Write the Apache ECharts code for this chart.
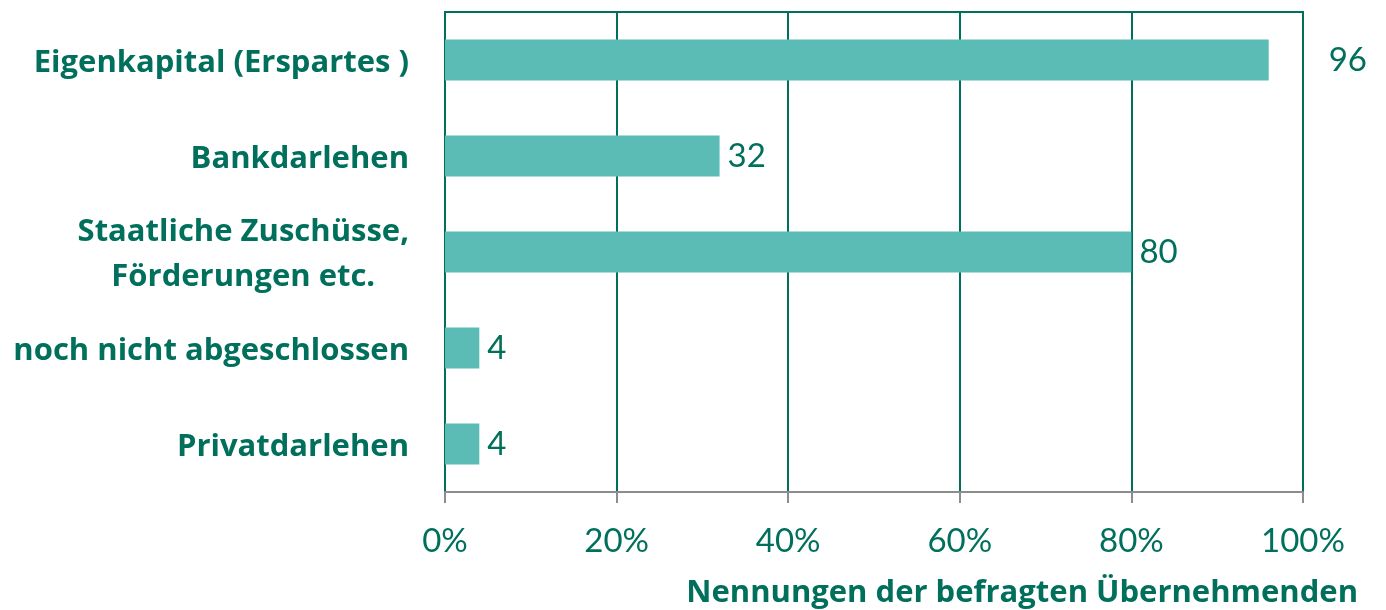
<!DOCTYPE html>
<html>
<head>
<meta charset="utf-8">
<script src="https://cdn.jsdelivr.net/npm/echarts@6/dist/echarts.min.js"></script>
<style>
  html, body { margin: 0; padding: 0; background: #fff; }
  #main { width: 1386px; height: 610px; }
</style>
</head>
<body>
<div id="main"></div>
<script>
const categories = [
  'Eigenkapital (Erspartes )',
  'Bankdarlehen',
  'Staatliche Zuschüsse,\nFörderungen etc.',
  'noch nicht abgeschlossen',
  'Privatdarlehen'
]
const values = [96, 32, 80, 4, 4]
const tickLabels = ['0%', '20%', '40%', '60%', '80%', '100%']
const axisTitle = 'Nennungen der befragten Übernehmenden'

const teal = '#00705c'
const barColor = '#5bbbb5'
const numFont = 'Lato'
const textFont = 'Open Sans'

const chart = echarts.init(document.getElementById('main'))

chart.setOption({
  animation: false,
  grid: {
    left: 445, right: 83, top: 12, bottom: 118,
    show: true, borderColor: teal, borderWidth: 2
  },
  title: {
    text: axisTitle,
    right: 23, top: 573,
    textStyle: { color: teal, fontFamily: textFont, fontWeight: 'bold', fontSize: 31 }
  },
  xAxis: {
    type: 'value', min: 0, max: 100, interval: 20,
    axisLine: { show: true, lineStyle: { color: '#8c8c8c', width: 2 } },
    axisTick: { show: true, length: 11, lineStyle: { color: '#8c8c8c', width: 2 } },
    splitLine: { show: true, lineStyle: { color: teal, width: 2 } },
    axisLabel: {
      margin: 33, color: teal, fontFamily: numFont, fontSize: 33,
      formatter: (v) => tickLabels[v / 20]
    }
  },
  yAxis: {
    type: 'category', inverse: true, data: categories,
    axisLine: { lineStyle: { color: teal, width: 2 } },
    axisTick: { length: 12, lineStyle: { color: teal, width: 2 } },
    axisLabel: {
      margin: 36, color: teal, fontFamily: textFont, fontWeight: 'bold',
      fontSize: 31, lineHeight: 45, align: 'right', padding: [6, 0, 0, 0],
      formatter: (v) => v.split('\n').map((s) => '{c|' + s + '}').join('\n'),
      rich: {
        c: {
          color: teal, fontFamily: textFont, fontWeight: 'bold',
          fontSize: 31, lineHeight: 45, align: 'center'
        }
      }
    }
  },
  series: [{
    type: 'bar',
    barWidth: 41,
    itemStyle: { color: barColor },
    label: {
      show: true, position: 'right', distance: 8,
      color: teal, fontFamily: numFont, fontSize: 33
    },
    data: values.map((v, i) => i === 0
      ? { value: v, label: { distance: 60 } }
      : v)
  }]
})
</script>
</body>
</html>
